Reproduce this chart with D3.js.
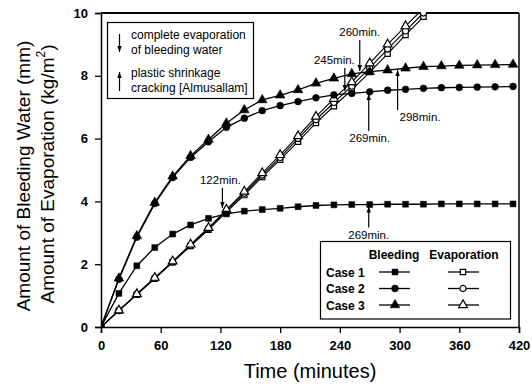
<!DOCTYPE html>
<html><head><meta charset="utf-8">
<script src="https://cdn.jsdelivr.net/npm/d3@7"></script>
<style>
html,body{margin:0;padding:0;background:#fff;}
svg{display:block;font-family:"Liberation Sans",Arial,Helvetica,sans-serif;}
</style></head>
<body>
<svg id="chart" width="532" height="389"></svg>
<script>
// ---- data ----
const times = [0,18,36,54,72,90,108,126,144,162,180,198,216,234,252,270,288,306,324,342,360,378,396,414];
const bleed1 = [0,1.07,1.95,2.53,2.96,3.25,3.46,3.60,3.69,3.74,3.78,3.83,3.87,3.89,3.90,3.90,3.91,3.91,3.91,3.92,3.92,3.92,3.92,3.92];
const bleed2 = [0,1.52,2.86,3.93,4.76,5.40,5.90,6.36,6.65,6.89,7.05,7.18,7.30,7.39,7.44,7.49,7.54,7.57,7.60,7.62,7.63,7.64,7.65,7.66];
const bleed3 = [0,1.55,2.90,3.96,4.80,5.45,5.97,6.49,6.91,7.23,7.38,7.55,7.76,7.92,8.06,8.13,8.18,8.24,8.29,8.31,8.33,8.34,8.35,8.36];
const evapTimes = [0,18,36,54,72,90,108,126,144,162,180,198,216,234,252,270,288,306,324,342];
const evap1 = [0,0.52,1.03,1.54,2.06,2.58,3.10,3.66,4.20,4.78,5.33,5.90,6.50,7.03,7.55,8.12,8.70,9.30,9.88,10.45];
const evap2 = [0,0.52,1.04,1.55,2.07,2.60,3.13,3.70,4.26,4.84,5.40,6.00,6.60,7.15,7.67,8.25,8.85,9.43,10.00,10.60];
const evap3 = [0,0.53,1.05,1.57,2.09,2.63,3.16,3.74,4.31,4.90,5.48,6.08,6.70,7.27,7.80,8.40,9.00,9.58,10.15,10.70];
const xTicks = [0,60,120,180,240,300,360,420];
const yTicks = [0,2,4,6,8,10];
const caseNames = ["Case 1","Case 2","Case 3"];
const legendHeaders = ["Bleeding","Evaporation"];
const noteLegend = ["complete evaporation","of bleeding water","plastic shrinkage","cracking [Almusallam]"];
const notes = [
  {label:"122min.", t:122, series:0, dir:"down"},
  {label:"245min.", t:245, series:1, dir:"down"},
  {label:"260min.", t:260, series:2, dir:"down"},
  {label:"269min.", t:269, series:1, dir:"up"},
  {label:"298min.", t:298, series:2, dir:"up"},
  {label:"269min.", t:269, series:0, dir:"up"}
];
// layout for notes (offsets in px): gap to curve, line length, label dx, anchor
const noteLayout = [
  {gap:7, len:20, dx:-2, anchor:"middle"},
  {gap:3, len:23, dx:10, anchor:"end"},
  {gap:2, len:31, dx:0, anchor:"middle"},
  {gap:2, len:37, dx:1, anchor:"middle"},
  {gap:1, len:40, dx:2, anchor:"start"},
  {gap:2, len:21, dx:0, anchor:"middle"}
];

// ---- chart ----
const svg = d3.select("#chart");
const L=101, R=519, T=13, B=327;
const x = d3.scaleLinear().domain([0,420]).range([L,R]);
const y = d3.scaleLinear().domain([0,10]).range([B,T]);

svg.append("defs").append("clipPath").attr("id","clip")
  .append("rect").attr("x",L).attr("y",T-1).attr("width",R-L+4).attr("height",B-T+2);

// axes
const xAxis = svg.append("g").attr("transform",`translate(0,${B})`)
  .call(d3.axisBottom(x).tickValues(xTicks).tickSize(6).tickPadding(8).tickFormat(d3.format("d")));
const yAxis = svg.append("g").attr("transform",`translate(${L},0)`)
  .call(d3.axisLeft(y).tickValues(yTicks).tickSize(6).tickPadding(7).tickFormat(d3.format("d")));
[xAxis,yAxis].forEach(a=>{
  a.select(".domain").attr("stroke","#000").attr("stroke-width",1.5);
  a.selectAll(".tick line").attr("stroke","#000").attr("stroke-width",1.3);
  a.selectAll(".tick text").attr("fill","#000").attr("font-size",13).attr("font-weight","bold")
    .attr("font-family","'Liberation Sans',Arial,sans-serif");
});
// frame top & right
svg.append("line").attr("x1",L).attr("x2",R).attr("y1",T).attr("y2",T).attr("stroke","#000").attr("stroke-width",2);
svg.append("line").attr("x1",R).attr("x2",R).attr("y1",T).attr("y2",B).attr("stroke","#000").attr("stroke-width",1.5);

// axis titles
svg.append("text").attr("x",(L+R)/2).attr("y",378).attr("text-anchor","middle")
  .attr("font-size",20).text("Time (minutes)");
const yt = svg.append("text").attr("transform","translate(30,176) rotate(-90)").attr("text-anchor","middle").attr("font-size",19);
yt.append("tspan").attr("x",0).attr("y",0).text("Amount of Bleeding Water (mm)");
const t2 = svg.append("text").attr("transform","translate(54,174) rotate(-90)").attr("text-anchor","middle").attr("font-size",19);
t2.append("tspan").text("Amount of Evaporation (kg/m");
t2.append("tspan").attr("font-size",12).attr("dy",-9).text("2");
t2.append("tspan").attr("dy",9).text(")");

// marker drawing
const shapes = [d3.symbolSquare, d3.symbolCircle, d3.symbolTriangle];
const sizes = [34, 36, 40];
function drawSeries(tArr, vArr, shapeIdx, open){
  const g = svg.append("g").attr("clip-path","url(#clip)");
  const pts = tArr.map((t,i)=>[t,vArr[i]]);
  g.append("path").datum(pts)
    .attr("d", d3.line().x(d=>x(d[0])).y(d=>y(d[1])))
    .attr("fill","none").attr("stroke","#000").attr("stroke-width",open?1.1:1.3);
  g.selectAll("path.m").data(pts).join("path").attr("class","m")
    .attr("transform",d=>`translate(${x(d[0])},${y(d[1])})`)
    .attr("d", d3.symbol().type(shapes[shapeIdx]).size(open?sizes[shapeIdx]-6:sizes[shapeIdx]))
    .attr("fill", open?"#fff":"#000").attr("stroke","#000").attr("stroke-width",open?1.2:0.6);
}
const bleeds=[bleed1,bleed2,bleed3], evaps=[evap1,evap2,evap3];
evaps.forEach((e,i)=>drawSeries(evapTimes,e,i,true));
bleeds.forEach((b,i)=>drawSeries(times,b,i,false));

// arrows
function arrow(g,x0,y0,x1,y1){
  g.append("line").attr("x1",x0).attr("y1",y0).attr("x2",x1).attr("y2",y1).attr("stroke","#000").attr("stroke-width",1.2);
  const dir = Math.sign(y1-y0);
  g.append("path").attr("d",`M${x1-2.2},${y1-dir*6}L${x1+2.2},${y1-dir*6}L${x1},${y1}Z`).attr("fill","#000");
}
const ng = svg.append("g");
notes.forEach((n,i)=>{
  const lay = noteLayout[i];
  const v = d3.scaleLinear().domain(times).range(bleeds[n.series])(n.t);
  const px = x(n.t), py = y(v);
  let labelY;
  if(n.dir==="down"){
    const end = py - lay.gap, start = end - lay.len;
    arrow(ng,px,start,px,end);
    labelY = start - 4;
  } else {
    const end = py + lay.gap, start = end + lay.len;
    arrow(ng,px,start,px,end);
    labelY = start + 11;
  }
  ng.append("text").attr("x",px+lay.dx).attr("y",labelY).attr("text-anchor",lay.anchor)
    .attr("font-size",11.5).text(n.label);
});

// top-left note legend
const tl = svg.append("g");
tl.append("rect").attr("x",107.5).attr("y",22.5).attr("width",146).attr("height",76).attr("fill","#fff").attr("stroke","#000").attr("stroke-width",1.2);
arrow(tl,119.5,34,119.5,52);
arrow(tl,119.5,91,119.5,72);
[39,54,77,92].forEach((yy,i)=>{
  tl.append("text").attr("x",131).attr("y",yy).attr("font-size",12).text(noteLegend[i]);
});

// bottom-right legend
const lg = svg.append("g");
lg.append("rect").attr("x",320.5).attr("y",241.5).attr("width",190).attr("height",77.5).attr("fill","#fff").attr("stroke","#000").attr("stroke-width",1.2);
lg.append("text").attr("x",394).attr("y",259).attr("text-anchor","middle").attr("font-size",12).attr("font-weight","bold").text(legendHeaders[0]);
lg.append("text").attr("x",464).attr("y",259).attr("text-anchor","middle").attr("font-size",12).attr("font-weight","bold").text(legendHeaders[1]);
const rowsY=[272,288.5,305];
caseNames.forEach((c,i)=>{
  const ry=rowsY[i];
  lg.append("text").attr("x",326).attr("y",ry+4.5).attr("font-size",12).attr("font-weight","bold").text(c);
  [[379,410,395,false],[448,479,463,true]].forEach(([a,b,m,open])=>{
    lg.append("line").attr("x1",a).attr("x2",b).attr("y1",ry).attr("y2",ry).attr("stroke","#000").attr("stroke-width",1.3);
    lg.append("path").attr("transform",`translate(${m},${ry})`)
      .attr("d",d3.symbol().type(shapes[i]).size(open?sizes[i]-6:sizes[i]))
      .attr("fill",open?"#fff":"#000").attr("stroke","#000").attr("stroke-width",open?1.2:0.6);
  });
});
</script>
</body></html>
